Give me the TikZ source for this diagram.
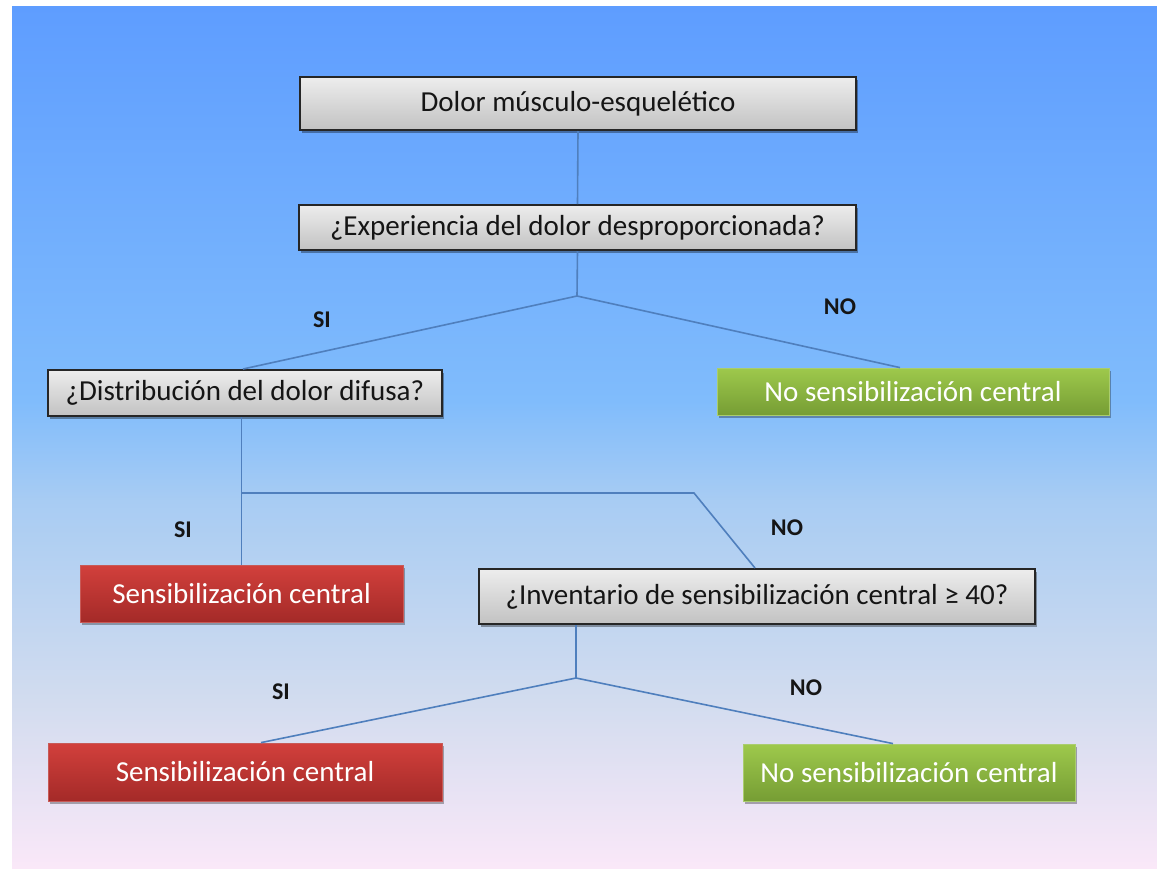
\documentclass[tikz,border=0pt]{standalone}
\usepackage{fontspec}
\setmainfont{Carlito}
\usetikzlibrary{shadows,calc}
\definecolor{bgA}{HTML}{FAE8F8}
\definecolor{bgB}{HTML}{D2DCEF}
\definecolor{bgC}{HTML}{A8CCF3}
\definecolor{bgD}{HTML}{80BCFC}
\definecolor{bgE}{HTML}{5E9DFF}
\definecolor{grayT}{HTML}{EDEDED}
\definecolor{grayB}{HTML}{C2C2C2}
\definecolor{redT}{HTML}{D2403C}
\definecolor{redB}{HTML}{A42A28}
\definecolor{redE}{HTML}{C85A57}
\definecolor{greenT}{HTML}{9EC94C}
\definecolor{greenB}{HTML}{769D34}
\definecolor{greenE}{HTML}{AACD6E}
\definecolor{lineblue}{HTML}{4F7FBD}
\definecolor{txtdark}{HTML}{151515}
\pgfdeclareverticalshading{bgshade}{100bp}{color(0bp)=(bgA); color(25bp)=(bgA); color(34.7bp)=(bgB); color(46.3bp)=(bgC); color(52.1bp)=(bgD); color(75bp)=(bgE); color(100bp)=(bgE)}
\newcommand\boxfont{\fontsize{29}{33}\selectfont}
\newcommand\lblfont{\fontsize{24}{28}\selectfont\bfseries}
\tikzset{
  qbox/.style={draw=black!85, line width=2pt, top color=grayT, bottom color=grayB,
    inner sep=0pt, font=\boxfont, text=txtdark,
    drop shadow={shadow xshift=1.5pt, shadow yshift=-2.5pt, opacity=0.35, fill=black}},
  redbox/.style={draw=redE, line width=0.8pt, top color=redT, bottom color=redB,
    inner sep=0pt, font=\boxfont, text=white,
    drop shadow={shadow xshift=1.5pt, shadow yshift=-2.5pt, opacity=0.3, fill=black}},
  greenbox/.style={draw=greenE, line width=0.8pt, top color=greenT, bottom color=greenB,
    inner sep=0pt, font=\boxfont, text=white,
    drop shadow={shadow xshift=1.5pt, shadow yshift=-2.5pt, opacity=0.3, fill=black}},
  lbl/.style={font=\lblfont, text=txtdark, inner sep=0pt},
  conn/.style={draw=lineblue, line width=1.6pt}
}
\begin{document}
\begin{tikzpicture}[x=1pt,y=1pt]
\useasboundingbox (0,0) rectangle (1157,-868);
\fill[white] (0,0) rectangle (1157,-868);
\shade[shading=bgshade] (12,-6) rectangle (1157,-868);

\coordinate (j1) at (577,-296);
\coordinate (j2) at (241.5,-493);
\coordinate (j2b) at (694,-493);
\coordinate (j3) at (576,-678);

\node[qbox, minimum width=556, minimum height=53] (dolor) at (578,-103.5) {Dolor músculo-esquelético};
\node[qbox, minimum width=557, minimum height=45] (exp) at (577.5,-227.5) {¿Experiencia del dolor desproporcionada?};
\node[qbox, minimum width=394, minimum height=46] (dist) at (245,-393) {¿Distribución del dolor difusa?};
\node[greenbox, minimum width=392, minimum height=47] (no1) at (913,-391.5) {No sensibilización central};
\node[redbox, minimum width=323, minimum height=57] (sens1) at (241.5,-593.5) {Sensibilización central};
\node[qbox, minimum width=556, minimum height=55] (inv) at (757,-596.5) {¿Inventario de sensibilización central ≥ 40?};
\node[redbox, minimum width=394, minimum height=58] (sens2) at (245,-772) {Sensibilización central};
\node[greenbox, minimum width=332, minimum height=57] (no2) at (909,-772.5) {No sensibilización central};

\draw[conn] (dolor.south) -- (exp.north);
\draw[conn] (exp.south) -- (j1);
\draw[conn] (j1) -- ([xshift=-2pt]dist.north);
\draw[conn] (j1) -- ([xshift=-13pt]no1.north);
\draw[conn] (sens1.north |- dist.south) -- (sens1.north);
\draw[conn] (j2) -- (j2b) -- ([xshift=-2pt]inv.north);
\draw[conn] (j3 |- inv.south) -- (j3);
\draw[conn] (j3) -- ([xshift=16pt]sens2.north);
\draw[conn] (j3) -- ([xshift=-16pt]no2.north);

\node[lbl] (si1) at (322,-320) {SI};
\node[lbl] (no1l) at (840,-307) {NO};
\node[lbl] (si2) at (183,-530) {SI};
\node[lbl] (no2l) at (787,-528) {NO};
\node[lbl] (si3) at (281,-692) {SI};
\node[lbl] (no3l) at (806,-688) {NO};
\end{tikzpicture}
\end{document}
